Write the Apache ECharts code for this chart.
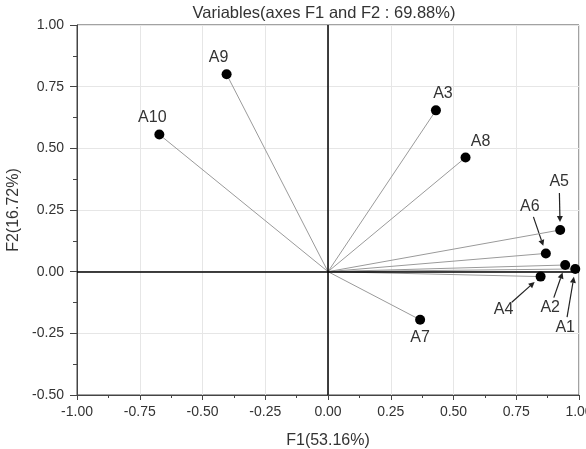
<!DOCTYPE html>
<html>
<head>
<meta charset="utf-8">
<script src="https://cdn.jsdelivr.net/npm/echarts@6/dist/echarts.min.js"></script>
<style>html,body{margin:0;padding:0;background:#fff}#c{width:586px;height:449px}</style>
</head>
<body>
<div id="c"></div>
<script>
var names = ['A1','A2','A3','A4','A5','A6','A7','A8','A9','A10'];
var f1 = [0.985, 0.945, 0.43, 0.847, 0.925, 0.868, 0.367, 0.548, -0.404, -0.672];
var f2 = [0.011, 0.027, 0.654, -0.02, 0.169, 0.074, -0.195, 0.463, 0.80, 0.556];
var titleText = 'Variables(axes F1 and F2 : 69.88%)';
var xName = 'F1(53.16%)';
var yName = 'F2(16.72%)';

// label placement (pixel offsets from the point) and whether an arrow is drawn
var labelOffsets = {
  A1: [-10, 59], A2: [-15, 43], A3: [7, -17], A4: [-37, 33], A5: [-1, -48],
  A6: [-16, -47], A7: [0, 18], A8: [15, -16], A9: [-8, -17], A10: [-7, -17]
};
var arrows = {A1: true, A2: true, A4: true, A5: true, A6: true};

var pts = names.map(function (n, i) { return [f1[i], f2[i], n]; });
var arrowPts = pts.filter(function (p) { return arrows[p[2]]; });
var FONT = 'Liberation Sans, Arial, sans-serif';

var chart = echarts.init(document.getElementById('c'));
chart.setOption({
  animation: false,
  title: {
    text: titleText, left: 319, top: 0, textAlign: 'center',
    textStyle: {fontSize: 16.5, fontWeight: 'normal', color: '#333', fontFamily: FONT}
  },
  grid: {left: 77, right: 7, top: 25, bottom: 54, show: true, borderColor: '#444', borderWidth: 1,
         containLabel: false, outerBoundsMode: 'none'},
  xAxis: {
    type: 'value', min: -1, max: 1, interval: 0.25,
    name: xName, nameLocation: 'middle', nameGap: 38,
    nameTextStyle: {fontSize: 16, color: '#333', fontFamily: FONT},
    axisLine: {show: true, onZero: false, lineStyle: {color: '#444'}},
    axisTick: {show: true, length: 5, lineStyle: {color: '#444'}},
    minorTick: {show: true, splitNumber: 2, length: 3, lineStyle: {color: '#444'}},
    axisLabel: {formatter: function (v) { return v.toFixed(2); }, fontSize: 14, color: '#333', fontFamily: FONT, margin: 10},
    splitLine: {show: true, lineStyle: {color: '#e6e6e6'}}
  },
  yAxis: {
    type: 'value', min: -0.5, max: 1, interval: 0.25,
    name: yName, nameLocation: 'middle', nameGap: 54,
    nameTextStyle: {fontSize: 16, color: '#333', fontFamily: FONT},
    axisLine: {show: true, onZero: false, lineStyle: {color: '#444'}},
    axisTick: {show: true, length: 7, lineStyle: {color: '#444'}},
    minorTick: {show: true, splitNumber: 2, length: 4, lineStyle: {color: '#444'}},
    axisLabel: {formatter: function (v) { return v.toFixed(2); }, fontSize: 14, color: '#333', fontFamily: FONT, margin: 13},
    splitLine: {show: true, lineStyle: {color: '#e6e6e6'}}
  },
  series: [
    {
      type: 'scatter', data: pts, symbolSize: 10, z: 5,
      itemStyle: {color: '#000', opacity: 1},
      label: {
        show: true, position: 'inside', color: '#333', fontSize: 16, fontFamily: FONT,
        formatter: function (p) { return p.data[2]; }
      },
      labelLayout: function (p) {
        var n = pts[p.dataIndex][2];
        var o = labelOffsets[n];
        var r = p.rect;
        return {x: r.x + r.width / 2 + o[0], y: r.y + r.height / 2 + o[1], align: 'center', verticalAlign: 'middle'};
      },
      markLine: {
        silent: true, symbol: 'none', animation: false,
        label: {show: false},
        lineStyle: {color: '#9a9a9a', width: 1, type: 'solid'},
        data: pts.map(function (p) { return [{coord: [0, 0]}, {coord: [p[0], p[1]]}]; })
      }
    },
    {
      type: 'scatter', data: [], silent: true, z: 3,
      markLine: {
        silent: true, symbol: 'none', animation: false, label: {show: false},
        lineStyle: {color: '#000', width: 1.5, type: 'solid'},
        data: [{xAxis: 0}, {yAxis: 0}]
      }
    },
    {
      type: 'custom', z: 4, silent: true,
      data: arrowPts,
      renderItem: function (params, api) {
        var n = arrowPts[params.dataIndex][2];
        var c = api.coord([api.value(0), api.value(1)]);
        var o = labelOffsets[n];
        var lx = c[0] + o[0], ly = c[1] + o[1];
        var dx = c[0] - lx, dy = c[1] - ly;
        var len = Math.sqrt(dx * dx + dy * dy);
        var ux = dx / len, uy = dy / len;
        var sx = lx + ux * 11, sy = ly + uy * 11;
        var ex = c[0] - ux * 8, ey = c[1] - uy * 8;
        var hl = 6, hw = 3;
        var bx = ex - ux * hl, by = ey - uy * hl;
        return {
          type: 'group',
          children: [
            {type: 'line', shape: {x1: sx, y1: sy, x2: bx, y2: by}, style: {stroke: '#222', lineWidth: 1.2}},
            {type: 'polygon', shape: {points: [[ex, ey], [bx - uy * hw, by + ux * hw], [bx + uy * hw, by - ux * hw]]}, style: {fill: '#222'}}
          ]
        };
      }
    }
  ]
});
</script>
</body>
</html>
